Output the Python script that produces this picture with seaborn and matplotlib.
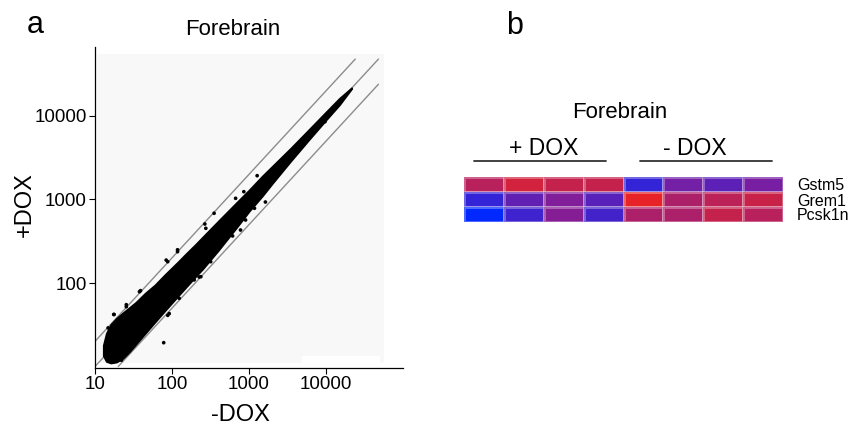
import numpy as np
import pandas as pd
import seaborn as sns
import matplotlib.pyplot as plt
from matplotlib.colors import LinearSegmentedColormap
from matplotlib.lines import Line2D
from matplotlib.patches import Rectangle

# Panel a: outline of the dense cloud of genes (-DOX vs +DOX)
band_x = [12.8, 14, 16, 19, 23, 28, 34, 45, 60, 80, 120, 150, 200, 250, 400,
          700, 1000, 1500, 2000, 3500, 6000, 10000, 15000, 21500]
band_hi = [18, 25, 32, 38, 44, 51, 59, 76, 95, 125, 180, 222, 288, 356, 555,
           935, 1300, 1930, 2500, 4150, 6900, 11200, 16400, 21800]
band_lo = [13.5, 11.5, 11, 11.3, 12.5, 15, 18.5, 25, 34, 46, 70, 88, 118, 147, 246,
           470, 720, 1110, 1550, 2900, 5200, 8950, 13650, 21200]

# isolated genes lying outside the dense core
out_minus = [78, 1276, 1633, 1178, 902, 612, 267, 352, 88, 39, 25.5, 17.7, 14.8,
             92, 225, 670, 118, 124, 194, 14.1, 22, 144, 9700,
             17.5, 25.5, 88, 37.8, 97, 84, 118, 237, 318, 275, 857, 776]
out_plus = [19.3, 1928, 933, 785, 568, 366, 509, 684, 180, 81, 55, 42, 29,
            43, 118, 1033, 237, 65.6, 109, 15.8, 11.9, 90, 8550,
            42, 52, 41, 78.7, 68.6, 188, 250, 119, 180, 452, 1240, 431]

# fold-change guide lines (2x, 1x, 0.5x)
fold_lines = [2.0, 1.0, 0.5]

# Panel b: scaled expression, 4 samples + DOX then 4 samples - DOX
genes = ['Gstm5', 'Grem1', 'Pcsk1n']
samples = ['p1', 'p2', 'p3', 'p4', 'm1', 'm2', 'm3', 'm4']
gstm5 = [1.08, 1.56, 1.32, 1.32, -1.16, -0.12, -0.48, -0.04]
grem1 = [-1.16, -0.40, 0.12, -0.56, 1.92, 0.88, 1.16, 1.40]
pcsk1n = [-2.00, -0.96, 0.20, -0.88, 0.88, 0.88, 1.32, 1.08]

W, H = 848, 429

sns.set_style('white')
plt.rcParams['font.family'] = ['Liberation Sans', 'DejaVu Sans']
plt.rcParams['text.color'] = 'black'


def fx(px):
    return px / W


def fy(py):
    return 1 - py / H


def draw_scatter(fig):
    ax = fig.add_axes([fx(95), fy(368), (403 - 95) / W, (368 - 47) / H])
    ax.set_xscale('log')
    ax.set_yscale('log')
    ax.set_xlim(10, 1e5)
    ax.set_ylim(9.6, 67000)

    # light grey panel behind the points
    ax.add_patch(Rectangle((10.5, 11), 56000 - 10.5, 56000 - 11,
                           facecolor='#f8f8f8', edgecolor='none', zorder=0))
    ax.add_patch(Rectangle((4900, 9.6), 50000 - 4900, 13.4 - 9.6,
                           facecolor='white', edgecolor='none', zorder=0.5))

    for f in fold_lines:
        x0 = max(10, 10 / f)
        x1 = 48000 / max(f, 1)
        xs = np.array([x0, x1])
        ax.plot(xs, f * xs, color='#8c8c8c', lw=1, zorder=1)

    ax.fill_between(band_x, band_lo, band_hi, facecolor='black',
                    edgecolor='black', lw=1.2, zorder=2)
    sns.scatterplot(x=out_minus, y=out_plus, s=7, color='black',
                    edgecolor='none', ax=ax, zorder=3)

    ax.set_xticks([10, 100, 1000, 10000])
    ax.set_xticklabels(['10', '100', '1000', '10000'])
    ax.set_yticks([100, 1000, 10000])
    ax.set_yticklabels(['100', '1000', '10000'])
    ax.minorticks_off()
    for s in ['top', 'right']:
        ax.spines[s].set_visible(False)
    for s in ['left', 'bottom']:
        ax.spines[s].set_color('black')
        ax.spines[s].set_linewidth(0.9)
    ax.tick_params(length=4, width=0.8, labelsize=13.5, pad=2,
                   color='black', labelcolor='black', bottom=True, left=True)
    return ax


def draw_heatmap(fig):
    hax = fig.add_axes([fx(464), fy(222), (783 - 464) / W, (222 - 177) / H])
    df = pd.DataFrame([gstm5, grem1, pcsk1n], index=genes, columns=samples)
    cmap = LinearSegmentedColormap.from_list(
        'bp', ['#0028FF', '#7A1EA0', '#EB2323'])
    sns.heatmap(df, cmap=cmap, vmin=-2, vmax=2, cbar=False,
                linewidths=1, linecolor=(1, 1, 1, 0.3),
                xticklabels=False, yticklabels=genes, ax=hax)
    hax.yaxis.tick_right()
    hax.tick_params(axis='y', length=0, pad=10, labelsize=11.5,
                    labelcolor='black')
    plt.setp(hax.get_yticklabels(), rotation=0, ha='left')
    return hax


def main():
    fig = plt.figure(figsize=(W / 100, H / 100), dpi=100)

    draw_scatter(fig)
    fig.text(fx(35), fy(33), 'a', fontsize=22, ha='center', va='baseline')
    fig.text(fx(233), fy(35), 'Forebrain', fontsize=16, ha='center', va='baseline')
    fig.text(fx(240), fy(421), '-DOX', fontsize=17, ha='center', va='baseline')
    fig.text(fx(25), fy(205), '+DOX', fontsize=17, ha='center', va='center',
             rotation=90)

    draw_heatmap(fig)
    fig.text(fx(515), fy(34), 'b', fontsize=22, ha='center', va='baseline')
    fig.text(fx(620), fy(118.5), 'Forebrain', fontsize=16, ha='center', va='baseline')
    fig.text(fx(544), fy(155), '+ DOX', fontsize=16.5, ha='center', va='baseline')
    fig.text(fx(695), fy(155), '- DOX', fontsize=16.5, ha='center', va='baseline')
    for x0, x1 in [(474, 606), (640, 772)]:
        fig.add_artist(Line2D([fx(x0), fx(x1)], [fy(161), fy(161)],
                              color='#333333', lw=1.3))

    fig.savefig('out.png', dpi=100)
    plt.close(fig)


if __name__ == '__main__':
    main()
